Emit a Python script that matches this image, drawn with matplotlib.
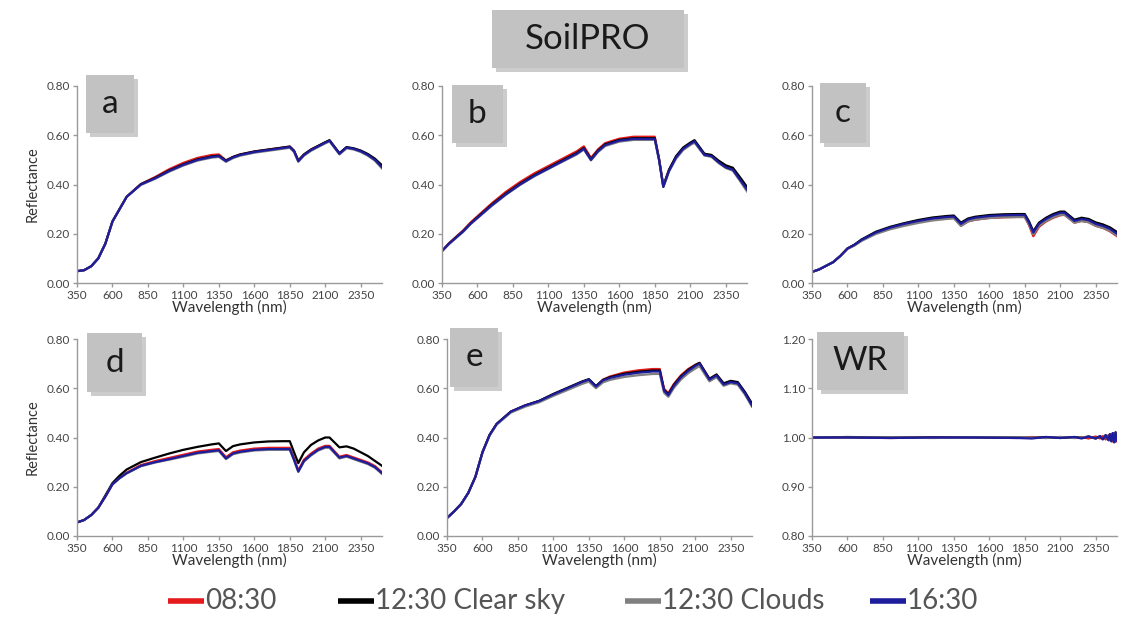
import matplotlib
matplotlib.use("Agg")
import matplotlib.pyplot as plt
from matplotlib.patches import Rectangle
from matplotlib.lines import Line2D
from matplotlib import font_manager

plt.rcParams['font.family'] = ['Lato', 'DejaVu Sans']

# wavelength grid shared by the soil panels (nm)
wl = [350, 400, 450, 500, 550, 600, 650, 700, 800, 900, 1000, 1100, 1200, 1300,
      1350, 1400, 1450, 1500, 1600, 1700, 1800, 1850, 1880, 1910, 1950, 2000,
      2050, 2100, 2130, 2200, 2250, 2300, 2350, 2400, 2450, 2500]

series_names = ['08:30', '12:30 Clear sky', '12:30 Clouds', '16:30']
series_colors = ['#e41a1c', '#000000', '#808080', '#1c1c9c']

# panel a
a_red = [0.048, 0.052, 0.068, 0.10, 0.16, 0.25, 0.30, 0.35, 0.402, 0.43, 0.462, 0.488, 0.508, 0.52,
         0.522, 0.498, 0.512, 0.522, 0.534, 0.542, 0.55, 0.554, 0.537, 0.497, 0.522, 0.542,
         0.556, 0.57, 0.578, 0.525, 0.55, 0.545, 0.535, 0.52, 0.50, 0.47]
a_black = [0.048, 0.052, 0.068, 0.10, 0.16, 0.25, 0.30, 0.35, 0.401, 0.427, 0.457, 0.482, 0.502, 0.514,
           0.517, 0.497, 0.512, 0.522, 0.534, 0.542, 0.55, 0.554, 0.537, 0.497, 0.522, 0.542,
           0.557, 0.572, 0.58, 0.527, 0.552, 0.547, 0.538, 0.524, 0.505, 0.478]
a_gray = [0.048, 0.052, 0.068, 0.10, 0.16, 0.25, 0.30, 0.35, 0.398, 0.423, 0.452, 0.477, 0.497, 0.509,
          0.512, 0.492, 0.507, 0.517, 0.529, 0.537, 0.545, 0.549, 0.532, 0.492, 0.517, 0.537,
          0.552, 0.567, 0.575, 0.522, 0.547, 0.542, 0.532, 0.517, 0.497, 0.465]
a_blue = [0.048, 0.052, 0.068, 0.10, 0.16, 0.25, 0.30, 0.35, 0.40, 0.425, 0.455, 0.48, 0.50, 0.512,
          0.515, 0.495, 0.51, 0.52, 0.532, 0.54, 0.548, 0.552, 0.535, 0.495, 0.52, 0.54,
          0.555, 0.57, 0.578, 0.525, 0.55, 0.545, 0.535, 0.52, 0.50, 0.47]

# panel b
b_red = [0.13, 0.162, 0.188, 0.214, 0.245, 0.271, 0.297, 0.323, 0.37, 0.41, 0.445, 0.475, 0.505, 0.535,
         0.555, 0.508, 0.543, 0.568, 0.586, 0.594, 0.594, 0.594, 0.505, 0.392, 0.458, 0.513,
         0.548, 0.566, 0.575, 0.52, 0.515, 0.49, 0.47, 0.46, 0.42, 0.375]
b_black = [0.13, 0.16, 0.186, 0.211, 0.241, 0.267, 0.292, 0.318, 0.363, 0.403, 0.438, 0.468, 0.498, 0.528,
           0.548, 0.503, 0.538, 0.563, 0.581, 0.588, 0.588, 0.588, 0.503, 0.395, 0.46, 0.515,
           0.55, 0.57, 0.58, 0.525, 0.52, 0.497, 0.478, 0.468, 0.43, 0.39]
b_gray = [0.13, 0.158, 0.183, 0.208, 0.238, 0.263, 0.288, 0.313, 0.358, 0.398, 0.433, 0.463, 0.493, 0.522,
          0.542, 0.498, 0.532, 0.556, 0.574, 0.581, 0.581, 0.581, 0.498, 0.39, 0.452, 0.505,
          0.54, 0.56, 0.57, 0.518, 0.512, 0.487, 0.467, 0.456, 0.415, 0.372]
b_blue = [0.13, 0.16, 0.185, 0.21, 0.24, 0.265, 0.29, 0.315, 0.36, 0.40, 0.435, 0.465, 0.495, 0.525,
          0.545, 0.50, 0.535, 0.56, 0.578, 0.585, 0.585, 0.585, 0.50, 0.39, 0.455, 0.51,
          0.545, 0.565, 0.575, 0.52, 0.515, 0.49, 0.47, 0.46, 0.42, 0.38]

# panel c
c_red = [0.045, 0.055, 0.07, 0.085, 0.11, 0.14, 0.155, 0.175, 0.205, 0.225, 0.24, 0.252, 0.262, 0.266,
         0.268, 0.232, 0.25, 0.257, 0.264, 0.267, 0.268, 0.268, 0.235, 0.19, 0.228, 0.25,
         0.265, 0.275, 0.277, 0.245, 0.252, 0.247, 0.232, 0.224, 0.21, 0.19]
c_black = [0.045, 0.055, 0.07, 0.085, 0.11, 0.14, 0.156, 0.177, 0.208, 0.228, 0.243, 0.256, 0.266, 0.272,
           0.274, 0.245, 0.262, 0.269, 0.276, 0.279, 0.28, 0.28, 0.25, 0.21, 0.245, 0.265,
           0.28, 0.29, 0.29, 0.257, 0.265, 0.26, 0.246, 0.238, 0.226, 0.207]
c_gray = [0.045, 0.055, 0.07, 0.085, 0.11, 0.138, 0.152, 0.171, 0.199, 0.218, 0.232, 0.244, 0.254, 0.26,
          0.262, 0.232, 0.25, 0.257, 0.264, 0.267, 0.268, 0.268, 0.237, 0.198, 0.232, 0.252,
          0.267, 0.277, 0.277, 0.245, 0.252, 0.247, 0.232, 0.224, 0.212, 0.192]
c_blue = [0.045, 0.055, 0.07, 0.085, 0.11, 0.14, 0.155, 0.175, 0.205, 0.225, 0.24, 0.252, 0.262, 0.268,
          0.27, 0.24, 0.258, 0.265, 0.272, 0.275, 0.276, 0.276, 0.245, 0.205, 0.24, 0.26,
          0.275, 0.285, 0.285, 0.252, 0.26, 0.255, 0.24, 0.232, 0.22, 0.20]

# panel d
d_red = [0.055, 0.065, 0.085, 0.115, 0.16, 0.21, 0.236, 0.257, 0.288, 0.304, 0.317, 0.33, 0.343, 0.35,
         0.353, 0.32, 0.34, 0.347, 0.355, 0.358, 0.358, 0.358, 0.315, 0.266, 0.31, 0.335,
         0.355, 0.366, 0.366, 0.322, 0.329, 0.319, 0.309, 0.299, 0.284, 0.259]
d_black = [0.055, 0.065, 0.085, 0.115, 0.165, 0.215, 0.245, 0.27, 0.30, 0.318, 0.335, 0.35, 0.362, 0.372,
           0.376, 0.345, 0.365, 0.372, 0.38, 0.384, 0.385, 0.385, 0.34, 0.296, 0.34, 0.37,
           0.388, 0.40, 0.40, 0.36, 0.364, 0.355, 0.34, 0.325, 0.305, 0.285]
d_gray = [0.055, 0.065, 0.085, 0.115, 0.16, 0.21, 0.234, 0.254, 0.283, 0.298, 0.31, 0.322, 0.335, 0.342,
          0.345, 0.312, 0.332, 0.339, 0.347, 0.35, 0.35, 0.35, 0.307, 0.26, 0.302, 0.327,
          0.347, 0.358, 0.358, 0.315, 0.322, 0.312, 0.302, 0.292, 0.277, 0.252]
d_blue = [0.055, 0.065, 0.085, 0.115, 0.16, 0.21, 0.235, 0.255, 0.285, 0.30, 0.312, 0.325, 0.338, 0.345,
          0.348, 0.315, 0.335, 0.342, 0.35, 0.353, 0.353, 0.353, 0.31, 0.262, 0.305, 0.33,
          0.35, 0.362, 0.362, 0.318, 0.325, 0.315, 0.305, 0.295, 0.28, 0.255]

# panel e
e_red = [0.073, 0.10, 0.13, 0.175, 0.24, 0.34, 0.41, 0.455, 0.505, 0.53, 0.548, 0.575, 0.60, 0.625,
         0.635, 0.607, 0.635, 0.648, 0.664, 0.673, 0.678, 0.678, 0.598, 0.58, 0.618, 0.653,
         0.678, 0.695, 0.703, 0.638, 0.655, 0.618, 0.628, 0.622, 0.582, 0.532]
e_black = [0.073, 0.10, 0.13, 0.175, 0.24, 0.34, 0.41, 0.455, 0.505, 0.53, 0.549, 0.577, 0.602, 0.627,
           0.637, 0.609, 0.634, 0.645, 0.659, 0.667, 0.672, 0.672, 0.593, 0.575, 0.614, 0.649,
           0.674, 0.694, 0.703, 0.638, 0.656, 0.62, 0.63, 0.625, 0.585, 0.538]
e_gray = [0.073, 0.10, 0.13, 0.175, 0.24, 0.338, 0.407, 0.452, 0.501, 0.525, 0.543, 0.569, 0.593, 0.617,
          0.627, 0.6, 0.624, 0.634, 0.646, 0.653, 0.658, 0.658, 0.582, 0.565, 0.602, 0.636,
          0.661, 0.68, 0.69, 0.628, 0.645, 0.61, 0.62, 0.614, 0.575, 0.525]
e_blue = [0.073, 0.10, 0.13, 0.175, 0.24, 0.34, 0.41, 0.455, 0.505, 0.53, 0.548, 0.575, 0.60, 0.625,
          0.635, 0.607, 0.632, 0.642, 0.655, 0.663, 0.668, 0.668, 0.59, 0.572, 0.61, 0.645,
          0.67, 0.69, 0.70, 0.635, 0.652, 0.615, 0.625, 0.62, 0.58, 0.53]

# white reference panel
wl_wr = [350, 360, 400, 600, 900, 1200, 1500, 1800, 1900, 2000, 2100, 2200, 2250, 2300, 2350,
         2380, 2400, 2420, 2440, 2450, 2460, 2470, 2480, 2490, 2500]
wr_red = [0.998, 1.0, 1.0, 1.0, 0.999, 1.0, 1.0, 0.999, 1.001, 0.999, 1.001, 0.999, 1.001, 0.998, 1.002,
          0.998, 1.003, 0.996, 1.005, 0.994, 1.007, 0.992, 1.009, 0.991, 1.004]
wr_black = [0.998, 1.0, 1.0, 1.001, 1.0, 1.0, 1.0, 1.0, 0.999, 1.001, 0.999, 1.001, 0.999, 1.002, 0.998,
            1.002, 0.997, 1.004, 0.995, 1.006, 0.993, 1.008, 0.992, 1.009, 0.996]
wr_gray = [0.999, 1.0, 1.0, 1.0, 1.0, 0.999, 1.0, 1.0, 1.0, 0.999, 1.001, 0.999, 1.0, 1.002, 0.998,
           1.003, 0.997, 1.005, 0.994, 1.006, 0.993, 1.009, 0.991, 1.01, 0.998]
wr_blue = [0.998, 1.0, 1.0, 1.0, 0.999, 1.0, 1.0, 0.999, 0.998, 1.001, 0.999, 1.001, 0.998, 1.002, 0.998,
           1.003, 0.996, 1.005, 0.995, 1.007, 0.992, 1.009, 0.99, 1.011, 0.994]

x_ticks = [350, 600, 850, 1100, 1350, 1600, 1850, 2100, 2350]
soil_yticks = [0.0, 0.2, 0.4, 0.6, 0.8]
wr_yticks = [0.8, 0.9, 1.0, 1.1, 1.2]

W, H = 1132, 620
fig = plt.figure(figsize=(W / 100, H / 100), dpi=100)
fig.patch.set_facecolor('white')


def frac(x0, y0, x1, y1):
    # pixel box (top-left origin) -> figure fraction rect
    return [x0 / W, 1 - y1 / H, (x1 - x0) / W, (y1 - y0) / H]


def label_box(x0, y0, x1, y1, text, size):
    sh = Rectangle((x0 + 4 / W, y0 - 4 / H), x1 - x0, y1 - y0, transform=fig.transFigure,
                   facecolor='#9a9a9a', edgecolor='none', alpha=0.5, zorder=5)
    bx = Rectangle((x0, y0), x1 - x0, y1 - y0, transform=fig.transFigure,
                   facecolor='#c2c2c2', edgecolor='none', zorder=6)
    fig.add_artist(sh)
    fig.add_artist(bx)
    fig.text((x0 + x1) / 2, (y0 + y1) / 2, text, ha='center', va='center',
             fontsize=size, color='#1a1a1a', zorder=7)


def px_label_box(x0, y0, x1, y1, text, size):
    label_box(x0 / W, 1 - y1 / H, x1 / W, 1 - y0 / H, text, size)


panels = [
    ('a', (77, 86, 382, 283), wl, [a_red, a_black, a_gray, a_blue], soil_yticks, True, (86, 75, 134, 133)),
    ('b', (442, 86, 747, 283), wl, [b_red, b_black, b_gray, b_blue], soil_yticks, False, (452, 85, 503, 143)),
    ('c', (812, 86, 1117, 283), wl, [c_red, c_black, c_gray, c_blue], soil_yticks, False, (820, 83, 866, 143)),
    ('d', (77, 339, 382, 536), wl, [d_red, d_black, d_gray, d_blue], soil_yticks, True, (87, 333, 142, 392)),
    ('e', (447, 339, 752, 536), wl, [e_red, e_black, e_gray, e_blue], soil_yticks, False, (450, 328, 498, 387)),
    ('WR', (812, 339, 1117, 536), wl_wr, [wr_red, wr_black, wr_gray, wr_blue], wr_yticks, False, (817, 332, 904, 390)),
]

for name, rect, x, ys, yt, ylab, box in panels:
    ax = fig.add_axes(frac(*rect))
    for y, c in zip(ys, series_colors):
        ax.plot(x, y, color=c, lw=1.6, solid_joinstyle='round')
    ax.set_xlim(350, 2500)
    ax.set_ylim(yt[0], yt[-1])
    ax.set_xticks(x_ticks)
    ax.set_yticks(yt)
    ax.set_yticklabels([f'{v:.2f}' for v in yt])
    for s in ['top', 'right']:
        ax.spines[s].set_visible(False)
    for s in ['left', 'bottom']:
        ax.spines[s].set_color('#9a9a9a')
        ax.spines[s].set_linewidth(1.0)
    ax.tick_params(direction='out', length=3, width=1, color='#9a9a9a',
                   labelsize=8.5, labelcolor='#444444', pad=2)
    ax.set_xlabel('Wavelength (nm)', fontsize=11, color='#333333', labelpad=-1)
    if ylab:
        ax.set_ylabel('Reflectance', fontsize=10.5, color='#333333', labelpad=5)
    px_label_box(*box, name, 24)

# title box
px_label_box(492, 10, 684, 68, 'SoilPRO', 25)

# legend along the bottom, placed item by item (narrow font if available)
names = {f.name for f in font_manager.fontManager.ttflist}
leg_family = ['Liberation Sans Narrow', 'Lato'] if 'Liberation Sans Narrow' in names else ['Lato']
leg_size = 24 if 'Liberation Sans Narrow' in names else 20
leg_x = [168, 338, 625, 870]  # left end of each legend handle (px)
for lx, name, c in zip(leg_x, series_names, series_colors):
    fig.add_artist(Line2D([lx / W, (lx + 36) / W], [1 - 601 / H] * 2, transform=fig.transFigure,
                          color=c, lw=4, solid_capstyle='butt'))
    fig.text((lx + 37) / W, 1 - 601 / H, name, ha='left', va='center', fontsize=leg_size,
             color='#555555', family=leg_family)

fig.savefig('out.png', dpi=100, facecolor='white')
